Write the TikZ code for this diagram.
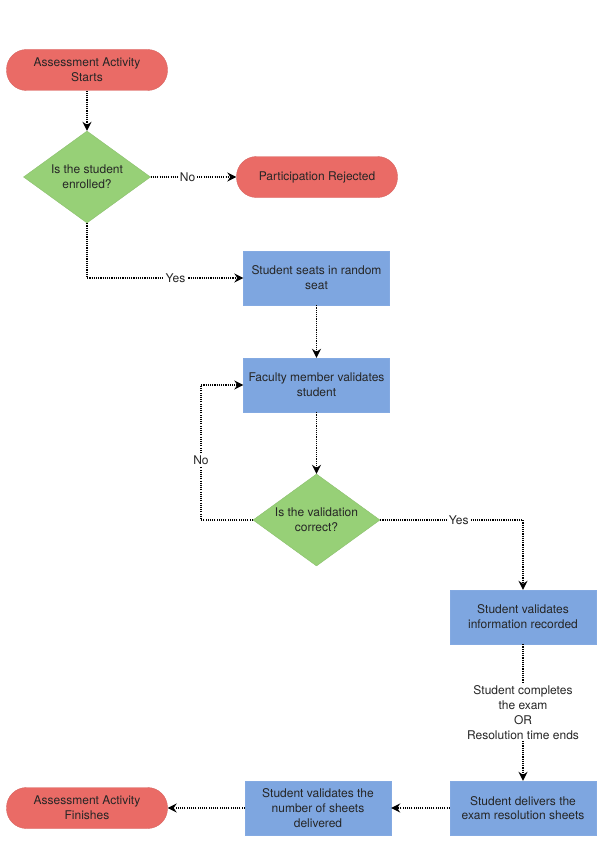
\documentclass[tikz,border=0pt]{standalone}
\usepackage{fontspec}
\setmainfont{TeX Gyre Heros}
\usetikzlibrary{shapes.geometric,arrows.meta,calc}
\definecolor{termred}{HTML}{EA6B66}
\definecolor{decgreen}{HTML}{97D077}
\definecolor{procblue}{HTML}{7EA6E0}
\begin{document}
\begin{tikzpicture}[x=1pt,y=-1pt,
 every node/.style={font=\fontsize{12}{14.8}\selectfont, text=black!85, align=center},
 terminal/.style={draw=termred!92!black, fill=termred, rounded corners=20pt, minimum width=161pt, minimum height=41pt, inner sep=0pt},
 decision/.style={diamond, draw=decgreen!92!black, fill=decgreen, minimum width=127pt, minimum height=92pt, inner sep=0pt, aspect=1.38},
 process/.style={draw=procblue!95!white, fill=procblue, minimum width=146pt, minimum height=54pt, inner sep=0pt},
 flow/.style={line width=1.2pt, dash pattern=on 1.1pt off 1.1pt, -{Stealth[length=9pt,width=9pt,inset=3pt]}},
 lbl/.style={fill=white, inner sep=2pt}
]
\useasboundingbox (0,0) rectangle (610,848);
\node[terminal] (start) at (87,70) {Assessment Activity\\Starts};
\node[decision] (d1) at (87,177) {Is the student\\enrolled?};
\node[terminal] (rej) at (317,177) {Participation Rejected};
\node[process] (seat) at (316.5,278) {Student seats in random\\seat};
\node[process] (fac) at (316.5,385) {Faculty member validates\\student};
\node[decision] (d2) at (316.5,520) {Is the validation\\correct?};
\node[process] (info) at (523,617) {Student validates\\information recorded};
\node[process] (deliv) at (523,808) {Student delivers the\\exam resolution sheets};
\node[process] (sheets) at (318,808) {Student validates the\\number of sheets\\delivered};
\node[terminal] (finish) at (87,808) {Assessment Activity\\Finishes};
\coordinate (loop) at (201,385);

\draw[flow] (start) -- (d1);
\draw[flow] (d1) -- node[lbl,pos=0.43]{No} (rej);
\draw[flow] (d1.south) |- node[lbl,pos=0.783]{Yes} (seat.west);
\draw[flow] (seat) -- (fac);
\draw[flow] (fac) -- (d2);
\draw[flow] (d2.west) -| node[lbl,pos=0.72]{No} (loop) -- (fac.west);
\draw[flow] (d2.east) -| node[lbl,pos=0.275]{Yes} (info.north);
\draw[flow] (info) -- node[lbl]{Student completes\\the exam\\OR\\Resolution time ends} (deliv);
\draw[flow] (deliv) -- (sheets);
\draw[flow] (sheets) -- (finish);
\end{tikzpicture}
\end{document}
